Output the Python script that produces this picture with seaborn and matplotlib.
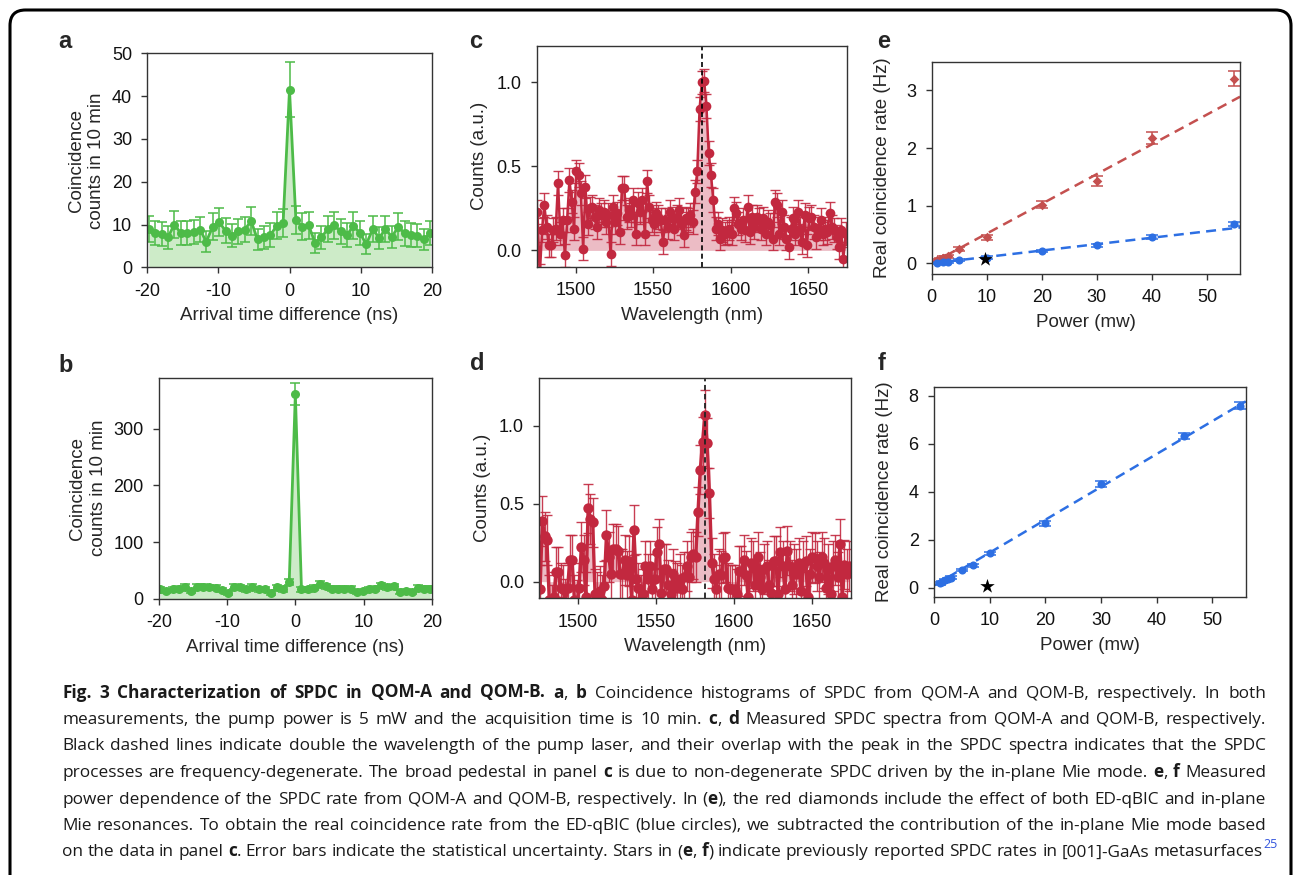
import numpy as np
import matplotlib
matplotlib.use("Agg")
import matplotlib.pyplot as plt
import seaborn as sns
from matplotlib.patches import FancyBboxPatch

# ---------------- data ----------------
# panel a (QOM-A coincidence histogram)
a_time = np.round(np.arange(-19.8, 19.81, 0.9), 2)
a_counts = [9.0, 8.0, 7.8, 7.0, 10.0, 8.0, 8.0, 8.2, 8.8, 6.0, 9.5, 10.6, 8.5, 7.4, 8.4,
            8.8, 10.8, 6.5, 7.0, 7.5, 9.7, 10.3, 41.5, 11.0, 9.5, 9.8, 5.7, 7.0, 9.0, 9.8,
            8.4, 7.6, 9.7, 8.0, 5.4, 8.9, 6.9, 8.9, 7.1, 9.5, 7.9, 7.6, 7.4, 6.5, 8.0]
# panel b (QOM-B coincidence histogram)
b_time = a_time
b_counts = [16.5, 14, 16.5, 17.7, 21, 13, 21, 21, 20, 19, 15, 10.6, 21, 20, 16.5, 21, 16.5,
            16.5, 10.6, 20, 16.5, 29, 361, 16.5, 16.5, 19, 26, 22, 17.7, 17.7, 17.7, 17.7,
            11.8, 14, 16.5, 17.7, 23.6, 20, 22, 11.8, 13, 11.8, 19, 17.7, 17.7]

# panel c (QOM-A spectrum)
c_counts = [0.23, -0.15, 0.12, 0.27, 0.14, 0.03, 0.03, 0.12, 0.13, 0.40, 0.10, 0.18, -0.03, 0.18, 0.42, 0.29, 0.13,
            0.47, 0.45, 0.34, 0.01, 0.38, 0.16, 0.25, 0.26, 0.20, 0.14, 0.24, 0.21, 0.23, 0.17, 0.21, -0.02, 0.26,
            0.17, 0.22, 0.11, 0.37, 0.37, 0.20, 0.24, 0.21, 0.30, 0.10, 0.28, 0.23, 0.30, 0.10, 0.41, 0.26, 0.18,
            0.16, 0.22, 0.20, 0.18, 0.05, 0.18, 0.14, 0.23, 0.19, 0.13, 0.20, 0.24, 0.16, 0.09, 0.19, 0.18, 0.21,
            0.17, 0.35, 0.47, 0.84, 1.00, 1.01, 0.86, 0.58, 0.45, 0.30, 0.13, 0.16, 0.07, 0.12, 0.10, 0.11, 0.13,
            0.10, 0.25, 0.22, 0.16, 0.13, 0.18, 0.12, 0.26, 0.11, 0.20, 0.14, 0.20, 0.18, 0.13, 0.19, 0.10, 0.17,
            0.15, 0.07, 0.29, 0.27, 0.10, 0.23, 0.14, 0.07, 0.02, 0.13, 0.19, 0.10, 0.23, 0.13, 0.05, 0.21, 0.03,
            0.19, 0.20, 0.14, 0.08, 0.13, 0.18, 0.10, 0.13, 0.11, 0.22, 0.14, 0.12, 0.08, 0.02, 0.12, -0.05, 0.10]
c_err = 0.07
# panel d (QOM-B spectrum)
d_counts = [-0.05, 0.39, 0.29, 0.27, -0.12, -0.18, -0.10, 0.06, 0.06, -0.04, -0.05, -0.14, -0.04, 0.14, 0.14, -0.12, -0.15,
            -0.04, 0.22, 0.14, -0.10, 0.47, 0.40, 0.38, -0.08, -0.10, -0.06, -0.12, -0.03, 0.30, 0.16, 0.05, 0.21, 0.21,
            0.20, 0.05, 0.05, 0.14, 0.04, 0.13, -0.12, 0.33, 0.02, -0.04, -0.12, -0.08, 0.10, 0.02, 0.10, -0.05, 0.02,
            0.19, 0.24, -0.07, 0.08, 0.08, -0.02, -0.08, 0.05, -0.03, -0.04, 0.02, -0.05, 0.03, 0.10, 0.03, 0.16, 0.18,
            0.16, 0.45, 0.72, 0.90, 1.07, 0.89, 0.57, 0.12, 0.02, -0.05, 0.05, 0.04, 0.15, 0.16, -0.04, -0.05, -0.05,
            -0.05, -0.08, 0.07, 0.07, 0.14, 0.04, -0.10, 0.12, 0.10, -0.02, 0.16, 0.03, -0.05, 0.08, 0.10, -0.02, -0.07,
            0.13, 0.13, -0.08, 0.19, 0.10, -0.05, 0.20, 0.10, -0.02, 0.08, 0.05, 0.12, -0.06, 0.10, 0.13, -0.10, 0.05,
            0.16, 0.15, 0.10, 0.03, 0.16, 0.12, -0.04, 0.08, -0.08, 0.10, 0.14, 0.03, 0.24, -0.10, 0.11, 0.05, 0.10]
d_err = 0.16
wavelength = np.round(1475.5 + 1.47 * np.arange(len(c_counts)), 2)
pump_double = 1581.3

# panel e (QOM-A power dependence)
e_red_power = [1, 1.5, 2, 2.5, 3, 5, 10, 20, 30, 40, 55]
e_red_rate = [0.05, 0.06, 0.09, 0.10, 0.12, 0.25, 0.45, 1.02, 1.43, 2.17, 3.20]
e_red_err = [0.03, 0.03, 0.03, 0.03, 0.03, 0.04, 0.05, 0.06, 0.09, 0.10, 0.13]
e_blue_power = [1, 2, 3, 5, 10, 20, 30, 40, 55]
e_blue_rate = [0.01, 0.015, 0.02, 0.06, 0.10, 0.21, 0.31, 0.46, 0.68]
e_blue_err = [0.02, 0.02, 0.02, 0.02, 0.02, 0.02, 0.03, 0.03, 0.04]
e_red_fit = (0.0516, 0.0)     # slope, intercept
e_blue_fit = (0.0111, 0.0)
e_star = (9.6, 0.07)
# panel f (QOM-B power dependence)
f_power = [1, 1.5, 2, 2.5, 3, 5, 7, 10, 20, 30, 45, 55]
f_rate = [0.18, 0.25, 0.32, 0.37, 0.42, 0.74, 0.94, 1.43, 2.68, 4.31, 6.32, 7.58]
f_err = [0.05, 0.05, 0.05, 0.05, 0.05, 0.06, 0.06, 0.07, 0.10, 0.12, 0.12, 0.15]
f_fit = (0.137, 0.09)
f_star = (9.6, 0.08)

caption_lines = [
    [("Fig. 3 Characterization of SPDC in QOM-A and QOM-B.", "b"), (" ", "r"), ("a", "b"), (", ", "r"), ("b", "b"),
     (" Coincidence histograms of SPDC from QOM-A and QOM-B, respectively. In both", "r")],
    [("measurements, the pump power is 5 mW and the acquisition time is 10 min. ", "r"), ("c", "b"), (", ", "r"),
     ("d", "b"), (" Measured SPDC spectra from QOM-A and QOM-B, respectively.", "r")],
    [("Black dashed lines indicate double the wavelength of the pump laser, and their overlap with the peak in the SPDC spectra indicates that the SPDC", "r")],
    [("processes are frequency-degenerate. The broad pedestal in panel ", "r"), ("c", "b"),
     (" is due to non-degenerate SPDC driven by the in-plane Mie mode. ", "r"), ("e", "b"), (", ", "r"), ("f", "b"),
     (" Measured", "r")],
    [("power dependence of the SPDC rate from QOM-A and QOM-B, respectively. In (", "r"), ("e", "b"),
     ("), the red diamonds include the effect of both ED-qBIC and in-plane", "r")],
    [("Mie resonances. To obtain the real coincidence rate from the ED-qBIC (blue circles), we subtracted the contribution of the in-plane Mie mode based", "r")],
    [("on the data in panel ", "r"), ("c", "b"), (". Error bars indicate the statistical uncertainty. Stars in (", "r"),
     ("e", "b"), (", ", "r"), ("f", "b"), (") indicate previously reported SPDC rates in [001]-GaAs metasurfaces", "r"),
     ("25", "sup")],
]

# ---------------- style ----------------
sns.set_theme(style="ticks")
plt.rcParams["font.family"] = ["Liberation Sans", "DejaVu Sans"]
plt.rcParams["axes.unicode_minus"] = False
plt.rcParams["axes.edgecolor"] = "#333333"
plt.rcParams["axes.linewidth"] = 1.0
plt.rcParams["xtick.color"] = "#333333"
plt.rcParams["ytick.color"] = "#333333"
plt.rcParams["xtick.labelcolor"] = "#111111"
plt.rcParams["ytick.labelcolor"] = "#111111"

W, H = 1293, 875
fig = plt.figure(figsize=(W / 100, H / 100), dpi=100)

def rect(l, r, t, b):
    return [l / W, 1 - b / H, (r - l) / W, (b - t) / H]

FS = 13
LFS = 13.5
GREEN = "#4dbb48"
GREEN_FILL = "#cdebc8"
CRIMSON = "#c2283f"
CRIMSON_FILL = "#ecbcc5"
RED = "#c4504f"
BLUE = "#2d6fe3"

def style_ax(ax, ypad):
    ax.tick_params(direction="out", length=4, width=1, labelsize=FS, pad=7)
    for s in ax.spines.values():
        s.set_visible(True)
        s.set_linewidth(1.0)
    ax.xaxis.label.set_size(LFS)
    ax.yaxis.label.set_size(LFS)
    ax.xaxis.labelpad = 5.5
    ax.yaxis.labelpad = ypad

# ---- panel a ----
ax = fig.add_axes(rect(147.3, 431.7, 53.3, 267.3))
ax.fill_between(a_time, a_counts, 0, color=GREEN_FILL, lw=0)
ax.errorbar(a_time, a_counts, yerr=np.sqrt(a_counts), fmt="none", ecolor=GREEN, elinewidth=1.1, capsize=3.5, capthick=1.1)
sns.lineplot(x=a_time, y=a_counts, ax=ax, color=GREEN, lw=2, marker="o", markersize=6.5, markeredgewidth=0)
ax.set_xlim(-20, 20); ax.set_ylim(0, 50)
ax.set_xticks([-20, -10, 0, 10, 20]); ax.set_yticks([0, 10, 20, 30, 40, 50])
ax.set_xlabel("Arrival time difference (ns)")
ax.set_ylabel("Coincidence\ncounts in 10 min", linespacing=1.25)
style_ax(ax, 5)

# ---- panel b ----
ax = fig.add_axes(rect(159, 431.7, 377.7, 598.7))
ax.fill_between(b_time, b_counts, 0, color=GREEN_FILL, lw=0)
ax.errorbar(b_time, b_counts, yerr=np.sqrt(b_counts), fmt="none", ecolor=GREEN, elinewidth=1.1, capsize=3.5, capthick=1.1)
sns.lineplot(x=b_time, y=b_counts, ax=ax, color=GREEN, lw=2, marker="o", markersize=6.5, markeredgewidth=0)
ax.set_xlim(-20, 20); ax.set_ylim(0, 390)
ax.set_xticks([-20, -10, 0, 10, 20]); ax.set_yticks([0, 100, 200, 300])
ax.set_xlabel("Arrival time difference (ns)")
ax.set_ylabel("Coincidence\ncounts in 10 min", linespacing=1.25)
style_ax(ax, 5)

# ---- panel c ----
ax = fig.add_axes(rect(536.7, 847.3, 46, 266.7))
ax.fill_between(wavelength, c_counts, 0, color=CRIMSON_FILL, lw=0)
ax.errorbar(wavelength, c_counts, yerr=c_err, fmt="none", ecolor=CRIMSON, elinewidth=1.0, capsize=3.5, capthick=1.0, alpha=0.9)
sns.lineplot(x=wavelength, y=c_counts, ax=ax, color=CRIMSON, lw=1.8, marker="o", markersize=7, markeredgewidth=0)
ax.axvline(pump_double, color="black", ls=(0, (3, 2)), lw=1.2)
ax.set_xlim(1475, 1675); ax.set_ylim(-0.097, 1.216)
ax.set_xticks([1500, 1550, 1600, 1650]); ax.set_yticks([0.0, 0.5, 1.0])
ax.set_yticklabels(["0.0", "0.5", "1.0"])
ax.set_xlabel("Wavelength (nm)")
ax.set_ylabel("Counts (a.u.)")
style_ax(ax, 6)

# ---- panel d ----
ax = fig.add_axes(rect(539.3, 850.7, 378.3, 598.3))
ax.fill_between(wavelength, d_counts, 0, color=CRIMSON_FILL, lw=0)
ax.errorbar(wavelength, d_counts, yerr=d_err, fmt="none", ecolor=CRIMSON, elinewidth=1.0, capsize=3.5, capthick=1.0, alpha=0.9)
sns.lineplot(x=wavelength, y=d_counts, ax=ax, color=CRIMSON, lw=2.4, marker="o", markersize=7.5, markeredgewidth=0)
ax.axvline(pump_double, color="#222222", ls=(0, (3, 2)), lw=1.3)
ax.set_xlim(1475, 1675); ax.set_ylim(-0.107, 1.306)
ax.set_xticks([1500, 1550, 1600, 1650]); ax.set_yticks([0.0, 0.5, 1.0])
ax.set_yticklabels(["0.0", "0.5", "1.0"])
ax.set_xlabel("Wavelength (nm)")
ax.set_ylabel("Counts (a.u.)")
style_ax(ax, 6)

# ---- panel e ----
ax = fig.add_axes(rect(931.7, 1240, 61.7, 274))
xfit = np.array([0, 56])
sns.lineplot(x=xfit, y=e_red_fit[0] * xfit + e_red_fit[1], ax=ax, color=RED, lw=1.8, ls=(0, (4, 2.5)))
sns.lineplot(x=xfit, y=e_blue_fit[0] * xfit + e_blue_fit[1], ax=ax, color=BLUE, lw=1.8, ls=(0, (4, 2.5)))
ax.errorbar(e_red_power, e_red_rate, yerr=e_red_err, fmt="none", ecolor=RED, elinewidth=1.1, capsize=4, capthick=1.1)
sns.scatterplot(x=e_red_power, y=e_red_rate, ax=ax, color=RED, marker="D", s=24, linewidth=0, zorder=3)
ax.errorbar(e_blue_power, e_blue_rate, yerr=e_blue_err, fmt="none", ecolor=BLUE, elinewidth=1.1, capsize=4, capthick=1.1)
sns.scatterplot(x=e_blue_power, y=e_blue_rate, ax=ax, color=BLUE, marker="o", s=34, linewidth=0, zorder=3)
sns.scatterplot(x=[e_star[0]], y=[e_star[1]], ax=ax, color="black", marker="*", s=120, linewidth=0, zorder=4)
ax.set_xlim(0, 56); ax.set_ylim(-0.185, 3.497)
ax.set_xticks([0, 10, 20, 30, 40, 50]); ax.set_yticks([0, 1, 2, 3])
ax.set_xlabel("Power (mw)")
ax.set_ylabel("Real coincidence rate (Hz)")
style_ax(ax, 11)

# ---- panel f ----
ax = fig.add_axes(rect(934, 1245.7, 386.7, 596.7))
sns.lineplot(x=xfit, y=f_fit[0] * xfit + f_fit[1], ax=ax, color=BLUE, lw=1.8, ls=(0, (4, 2.5)))
ax.errorbar(f_power, f_rate, yerr=f_err, fmt="none", ecolor=BLUE, elinewidth=1.1, capsize=4, capthick=1.1)
sns.scatterplot(x=f_power, y=f_rate, ax=ax, color=BLUE, marker="o", s=34, linewidth=0, zorder=3)
sns.scatterplot(x=[f_star[0]], y=[f_star[1]], ax=ax, color="black", marker="*", s=120, linewidth=0, zorder=4)
ax.set_xlim(0, 56); ax.set_ylim(-0.375, 8.375)
ax.set_xticks([0, 10, 20, 30, 40, 50]); ax.set_yticks([0, 2, 4, 6, 8])
ax.set_xlabel("Power (mw)")
ax.set_ylabel("Real coincidence rate (Hz)")
style_ax(ax, 11)

# ---- panel letters ----
for lab, (px, py) in {"a": (65, 41), "b": (66, 365), "c": (476, 41), "d": (477, 364),
                      "e": (884, 41), "f": (882, 364)}.items():
    fig.text(px / W, 1 - py / H, lab, fontsize=17, fontweight="bold", ha="center", va="center",
             family=["Liberation Sans", "DejaVu Sans"])

# ---- frame ----
frame = FancyBboxPatch((10 / W, -0.05), (1281 / W), 1 - 10 / H + 0.05,
                       boxstyle="round,pad=0,rounding_size=0.012", transform=fig.transFigure,
                       fill=False, edgecolor="black", lw=2.2, clip_on=False, mutation_aspect=W / H)
fig.patches.append(frame)

# ---- caption (justified) ----
renderer = fig.canvas.get_renderer()
CFS = 12.4
CFAM = ["Open Sans", "DejaVu Sans"]
x0, x1 = 62, 1266
ys = [692, 718.5, 745, 771.5, 798, 824.5, 851]

def make_tokens(segs):
    toks = []
    pending = False
    for text, st in segs:
        parts = text.split(" ")
        for i, p in enumerate(parts):
            if i > 0:
                pending = True
            if p == "":
                continue
            toks.append((p, st, pending))
            pending = False
    return toks

def tok_text(p, st, x, y):
    kw = dict(fontsize=CFS, family=CFAM, color="#1a1a1a", va="baseline", ha="left")
    if st == "b":
        kw["fontweight"] = "bold"
    if st == "sup":
        kw.update(fontsize=CFS * 0.72, color="#3355dd")
        y = y + 8 / H
    return fig.text(x, y, p, **kw)

space_t = fig.text(0, 0, "a a", fontsize=CFS, family=CFAM)
aa_t = fig.text(0, 0, "aa", fontsize=CFS, family=CFAM)
space_w = space_t.get_window_extent(renderer).width - aa_t.get_window_extent(renderer).width
space_t.remove(); aa_t.remove()

for li, segs in enumerate(caption_lines):
    toks = make_tokens(segs)
    yb = 1 - (ys[li] + 5.5) / H
    objs = [tok_text(p, st, 0, yb) for p, st, sp in toks]
    widths = [o.get_window_extent(renderer).width for o in objs]
    nsp = sum(1 for _, _, sp in toks if sp)
    if li < len(caption_lines) - 1 and nsp > 0:
        gap = max((x1 - x0 - sum(widths)) / nsp, 0.6 * space_w)
    else:
        gap = space_w
    x = x0
    for (p, st, sp), o, w in zip(toks, objs, widths):
        if sp:
            x += gap
        o.set_x(x / W)
        x += w

fig.savefig("out.png", dpi=100)
